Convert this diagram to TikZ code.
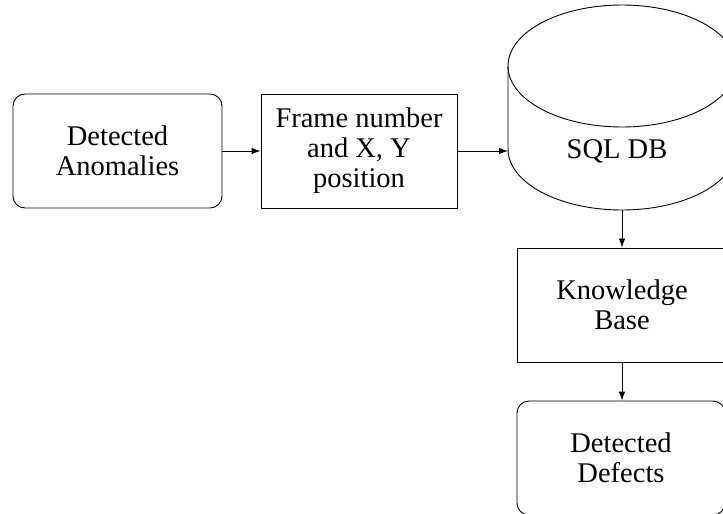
\documentclass[tikz,border=0pt]{standalone}
\usepackage{fontspec}
\setmainfont{Liberation Serif}
\usetikzlibrary{arrows.meta}
\begin{document}
\begin{tikzpicture}[x=1pt,y=1pt,
  every node/.style={font=\fontsize{28.5}{30}\selectfont},
  line/.style={line width=0.9pt},
  sbox/.style={draw, line width=0.9pt, align=center, inner sep=0pt, minimum height=114pt},
  rbox/.style={sbox, rounded corners=12pt},
  arr/.style={line width=0.9pt, -{Latex[length=9pt,width=6.5pt]}}]
\useasboundingbox (0,0) rectangle (723,-514);
\clip (0,0) rectangle (723,-514);
% nodes
\node[rbox, minimum width=209pt] (anom) at (117.5,-151) {Detected\\Anomalies};
\node[sbox, minimum width=196pt] (frame) at (359,-151) {Frame number\\and X, Y\\position};
% cylinder
\draw[line] (508,-66) -- (508,-149) arc[start angle=180, end angle=360, x radius=114, y radius=61] -- (736,-66);
\draw[line] (622,-66) ellipse[x radius=114, y radius=61];
\node (db) at (617,-151) {SQL DB};
\coordinate (dbW) at (508,-151);
\coordinate (dbS) at (622,-210);
\node[sbox, minimum width=210pt] (kb) at (622,-305) {Knowledge\\Base};
\node[rbox, minimum width=208pt] (def) at (621,-458) {Detected\\Defects};
% connectors
\draw[arr] (anom.east) -- (frame.west);
\draw[arr] (frame.east) -- (dbW);
\draw[arr] (dbS) -- (kb.north);
\draw[arr] (kb.south) -- (kb.south |- def.north);
\end{tikzpicture}
\end{document}
